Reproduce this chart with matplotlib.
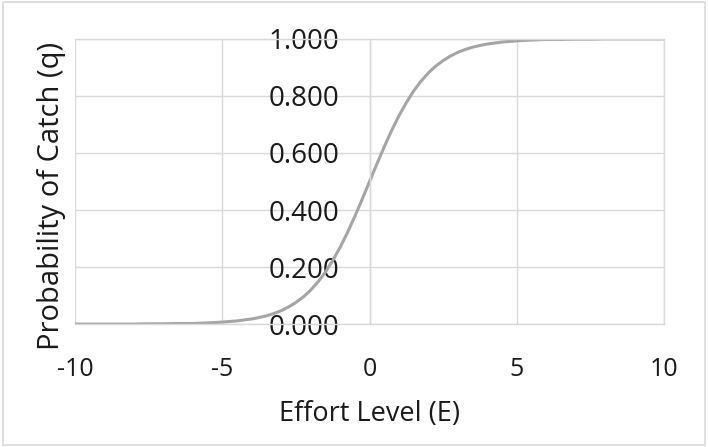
import matplotlib.pyplot as plt
from matplotlib.patches import Rectangle

# Effort level vs probability of catch
effort = [-10, -9.5, -9, -8.5, -8, -7.5, -7, -6.5, -6, -5.5, -5, -4.5, -4, -3.75,
          -3.5, -3.25, -3, -2.75, -2.5, -2.25, -2, -1.75, -1.5, -1.25, -1, -0.75,
          -0.5, -0.25, 0, 0.25, 0.5, 0.75, 1, 1.25, 1.5, 1.75, 2, 2.25, 2.5, 2.75,
          3, 3.25, 3.5, 3.75, 4, 4.5, 5, 5.5, 6, 6.5, 7, 7.5, 8, 8.5, 9, 9.5, 10]
catch_prob = [0.000, 0.000, 0.000, 0.000, 0.000, 0.001, 0.001, 0.002, 0.002, 0.004,
              0.007, 0.011, 0.018, 0.023, 0.029, 0.037, 0.047, 0.060, 0.076, 0.095,
              0.119, 0.148, 0.182, 0.223, 0.269, 0.321, 0.378, 0.438, 0.500, 0.562,
              0.622, 0.679, 0.731, 0.777, 0.818, 0.852, 0.881, 0.905, 0.924, 0.940,
              0.953, 0.963, 0.971, 0.977, 0.982, 0.989, 0.993, 0.996, 0.998, 0.998,
              0.999, 0.999, 1.000, 1.000, 1.000, 1.000, 1.000]
x_ticks = [-10, -5, 0, 5, 10]
y_ticks = [0.0, 0.2, 0.4, 0.6, 0.8, 1.0]

plt.rcParams['font.family'] = ['Open Sans', 'DejaVu Sans']
plt.rcParams['axes.unicode_minus'] = False
grid_col = '#d9d9d9'
text_col = '#1a1a1a'

fig = plt.figure(figsize=(7.08, 4.47), dpi=100)
ax = fig.add_axes([0.106, 0.275, 0.832, 0.638])

ax.plot(effort, catch_prob, color='#a5a5a5', linewidth=2.2, zorder=2)

ax.set_xlim(-10, 10)
ax.set_ylim(0, 1)
ax.set_xticks(x_ticks)
ax.set_yticks(y_ticks)
ax.set_yticklabels([f'{v:.3f}' for v in y_ticks])
ax.grid(True, color=grid_col, linewidth=1.0, zorder=0)
ax.set_axisbelow(True)

# vertical axis crosses at E = 0, labels sit just left of it
ax.spines['left'].set_position(('data', 0))
for s in ax.spines.values():
    s.set_color(grid_col)
    s.set_linewidth(1.0)
ax.tick_params(axis='y', length=0, pad=22, labelsize=20, labelcolor=text_col)
ax.tick_params(axis='x', length=0, pad=24, labelsize=18, labelcolor=text_col)
for lbl in ax.get_yticklabels():
    lbl.set_zorder(5)

ax.set_xlabel('Effort Level (E)', fontsize=19.5, color=text_col, labelpad=13)
ax.set_ylabel('Probability of Catch (q)', fontsize=21, color=text_col)
ax.yaxis.set_label_coords(-0.016, 0.45)

fig.patches.append(Rectangle((0.004, 0.005), 0.992, 0.99, transform=fig.transFigure,
                             fill=False, edgecolor=grid_col, linewidth=1.2))

fig.savefig('out.png', dpi=100)
